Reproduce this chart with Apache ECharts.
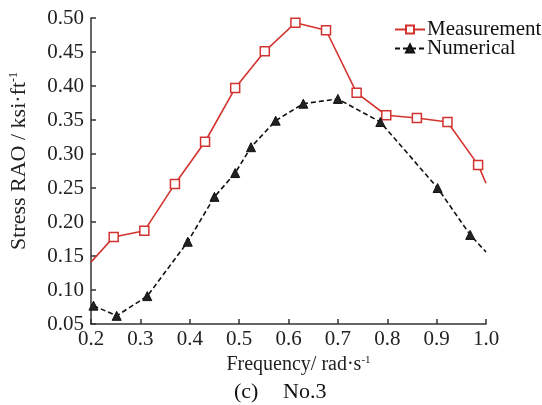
<!DOCTYPE html>
<html>
<head>
<meta charset="utf-8">
<script src="https://cdn.jsdelivr.net/npm/echarts@6/dist/echarts.min.js"></script>
<style>html,body{margin:0;padding:0;background:#fff}#c{width:542px;height:405px}</style>
</head>
<body>
<div id="c"></div>
<script>
const measFreq = [0.2, 0.246, 0.308, 0.37, 0.431, 0.492, 0.552, 0.614, 0.676, 0.738, 0.798, 0.86, 0.922, 0.984, 1.0];
const measVal  = [0.141, 0.178, 0.187, 0.256, 0.318, 0.397, 0.451, 0.493, 0.482, 0.390, 0.357, 0.353, 0.347, 0.284, 0.257];
const measMarker = [false, true, true, true, true, true, true, true, true, true, true, true, true, true, false];
const numFreq = [0.205, 0.252, 0.314, 0.396, 0.45, 0.492, 0.524, 0.574, 0.63, 0.70, 0.786, 0.902, 0.968, 1.0];
const numVal  = [0.077, 0.062, 0.091, 0.171, 0.237, 0.272, 0.310, 0.349, 0.374, 0.381, 0.347, 0.250, 0.181, 0.156];
const numMarker = [true, true, true, true, true, true, true, true, true, true, true, true, true, false];
const xTicks = [0.2, 0.3, 0.4, 0.5, 0.6, 0.7, 0.8, 0.9, 1.0];
const yTicks = [0.05, 0.10, 0.15, 0.20, 0.25, 0.30, 0.35, 0.40, 0.45, 0.50];

const FONT = '"Liberation Serif", "Times New Roman", serif';
const RED = '#d3332f';

function mk(xs, ys, marks) {
  return xs.map((x, i) => marks[i] ? [x, ys[i]] : {value: [x, ys[i]], symbol: 'none'});
}

const chart = echarts.init(document.getElementById('c'), null, {renderer: 'canvas'});
chart.setOption({
  animation: false,
  backgroundColor: '#fff',
  textStyle: {fontFamily: FONT},
  grid: {left: 86, top: 18, width: 400, height: 306},
  legend: {
    orient: 'vertical', left: 389, top: 14, itemWidth: 30, itemHeight: 10, itemGap: -2,
    textStyle: {fontFamily: FONT, fontSize: 21, color: '#111', padding: [0,0,0,-3], lineHeight: 20},
    data: ['Measurement', 'Numerical']
  },
  xAxis: {
    type: 'value', min: xTicks[0], max: xTicks[xTicks.length-1], interval: 0.1,
    axisLine: {lineStyle: {color: '#333', width: 1.5}},
    axisTick: {inside: true, length: 5, lineStyle: {color: '#333', width: 1.5}},
    splitLine: {show: false},
    axisLabel: {fontFamily: FONT, fontSize: 21, color: '#222', margin: 5, formatter: v => v.toFixed(1)},
    name: 'Frequency/ rad·s{sup|-1}', nameLocation: 'middle', nameGap: 26,
    nameTextStyle: {fontFamily: FONT, fontSize: 20, color: '#222', padding: [0,0,0,20],
      rich: {sup: {fontFamily: FONT, fontSize: 11, verticalAlign: 'top', padding: [0,0,8,0]}}}
  },
  yAxis: {
    type: 'value', min: yTicks[0], max: yTicks[yTicks.length-1], interval: 0.05,
    axisLine: {show: true, lineStyle: {color: '#333', width: 1.5}},
    axisTick: {show: true, inside: true, length: 5, lineStyle: {color: '#333', width: 1.5}},
    splitLine: {show: false},
    axisLabel: {fontFamily: FONT, fontSize: 21, color: '#222', margin: 7, formatter: v => v.toFixed(2)},
    name: 'Stress RAO / ksi·ft{sup|-1}', nameLocation: 'middle', nameGap: 61,
    nameTextStyle: {fontFamily: FONT, fontSize: 22, color: '#222', padding: [0,0,0,20],
      rich: {sup: {fontFamily: FONT, fontSize: 12, verticalAlign: 'top', padding: [0,0,9,0]}}}
  },
  series: [
    {
      name: 'Measurement', type: 'line', data: mk(measFreq, measVal, measMarker),
      symbol: 'rect', symbolSize: 9, showAllSymbol: true,
      lineStyle: {color: RED, width: 1.6},
      itemStyle: {color: '#fff', borderColor: RED, borderWidth: 1.5}
    },
    {
      name: 'Numerical', type: 'line', data: mk(numFreq, numVal, numMarker),
      symbol: 'triangle', symbolSize: 9, showAllSymbol: true,
      lineStyle: {color: '#111', width: 1.6, type: [5, 3]},
      itemStyle: {color: '#222', borderColor: '#111', borderWidth: 1}
    }
  ],
  graphic: [
    {type: 'text', left: 234, top: 381, style: {text: '(c)', font: '22px ' + FONT, fill: '#111'}},
    {type: 'text', left: 283, top: 381, style: {text: 'No.3', font: '22px ' + FONT, fill: '#111'}}
  ]
});
</script>
</body>
</html>
